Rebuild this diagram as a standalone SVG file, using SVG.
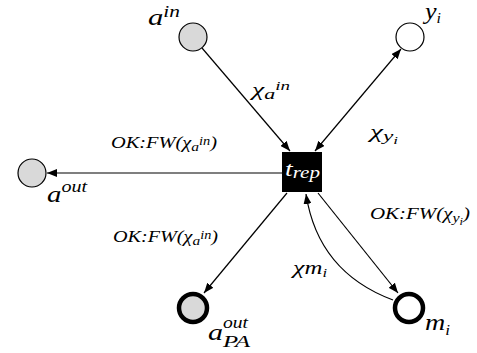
<svg xmlns="http://www.w3.org/2000/svg" width="477" height="353" viewBox="0 0 477 353">
<style>
.place{fill:#d9d9d9;stroke:#000;stroke-width:1.2}
.white{fill:#fff;stroke:#000;stroke-width:1.2}
.thick{stroke-width:4.5}
.e{fill:none;stroke:#000;stroke-width:1.2}
text{font-family:"Liberation Serif","DejaVu Serif",serif;font-style:italic;fill:#000}
.big{font-size:23px}
.lab{font-size:19px}
.ok{font-size:17px}
</style>
<defs>
<marker id="ah" viewBox="0 0 10 8" refX="10" refY="4" markerWidth="10" markerHeight="8" markerUnits="userSpaceOnUse" orient="auto-start-reverse">
<path d="M0,0 L10,4 L0,8 z" fill="#000"/>
</marker>
</defs>
<g id="connectors">
<line class="e" x1="202" y1="48" x2="290" y2="151" marker-end="url(#ah)"/>
<line class="e" x1="315" y1="151" x2="401" y2="49" marker-start="url(#ah)" marker-end="url(#ah)"/>
<line class="e" x1="282" y1="173" x2="47" y2="173" marker-end="url(#ah)"/>
<line class="e" x1="287" y1="193" x2="204" y2="293" marker-end="url(#ah)"/>
<line class="e" x1="318" y1="193" x2="398" y2="293" marker-end="url(#ah)"/>
<path class="e" d="M393,300 Q318,272 306,194" marker-end="url(#ah)"/>
<text class="lab" x="252" y="96" textLength="38" lengthAdjust="spacingAndGlyphs">χ<tspan font-size="15" dy="3">a</tspan><tspan font-size="13" dy="-9">in</tspan></text>
<text class="lab" x="370" y="138" textLength="28" lengthAdjust="spacingAndGlyphs">χ<tspan font-size="15" dy="3">y</tspan><tspan font-size="11" dy="3">i</tspan></text>
<text class="ok" x="111" y="148" textLength="106" lengthAdjust="spacingAndGlyphs">OK:FW(χ<tspan font-size="13" dy="3">a</tspan><tspan font-size="12" dy="-6">in</tspan><tspan dy="3">)</tspan></text>
<text class="ok" x="370" y="219" textLength="100" lengthAdjust="spacingAndGlyphs">OK:FW(χ<tspan font-size="13" dy="3">y</tspan><tspan font-size="10" dy="3">i</tspan><tspan dy="-6">)</tspan></text>
<text class="ok" x="113" y="242" textLength="105" lengthAdjust="spacingAndGlyphs">OK:FW(χ<tspan font-size="13" dy="3">a</tspan><tspan font-size="12" dy="-6">in</tspan><tspan dy="3">)</tspan></text>
<text class="lab" x="293" y="274" textLength="34" lengthAdjust="spacingAndGlyphs">χ<tspan font-size="18" dy="0">m</tspan><tspan font-size="12" dy="3">i</tspan></text>
</g>
<g id="a_in">
<circle class="place" cx="193" cy="37" r="14"/>
<text class="big" x="148" y="25" textLength="32" lengthAdjust="spacingAndGlyphs">a<tspan font-size="16" dy="-8">in</tspan></text>
</g>
<g id="y_i">
<circle class="white" cx="410" cy="37" r="14"/>
<text class="big" x="425" y="19" textLength="16" lengthAdjust="spacingAndGlyphs">y<tspan font-size="14" dy="4">i</tspan></text>
</g>
<g id="a_out">
<circle class="place" cx="32" cy="173" r="14"/>
<text class="big" x="47" y="202" textLength="40" lengthAdjust="spacingAndGlyphs">a<tspan font-size="16" dy="-10">out</tspan></text>
</g>
<g id="t_rep">
<rect x="282" y="152" width="40" height="40" fill="#000"/>
<text x="285" y="176" font-size="21" style="fill:#fff" textLength="35" lengthAdjust="spacingAndGlyphs">t<tspan font-size="16" dy="2">rep</tspan></text>
</g>
<g id="a_PA_out">
<circle class="place thick" cx="193" cy="308" r="14"/>
<text class="big" x="208" y="340"><tspan textLength="15" lengthAdjust="spacingAndGlyphs">a</tspan><tspan font-size="16" dy="-12" textLength="25" lengthAdjust="spacingAndGlyphs">out</tspan><tspan font-size="16" x="223" dy="19" textLength="27" lengthAdjust="spacingAndGlyphs">PA</tspan></text>
</g>
<g id="m_i">
<circle class="white thick" cx="409" cy="308" r="14"/>
<text class="big" x="425" y="330" textLength="25" lengthAdjust="spacingAndGlyphs">m<tspan font-size="14" dy="5">i</tspan></text>
</g>
</svg>
